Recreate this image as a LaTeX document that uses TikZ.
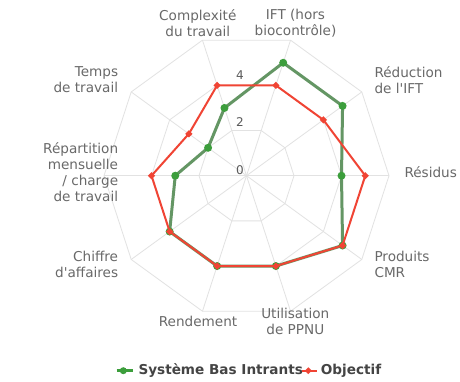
\documentclass[tikz,border=0pt]{standalone}
\usepackage{fontspec}
\setmainfont{DejaVu Sans}
\usetikzlibrary{shapes.geometric}
\definecolor{gridcol}{RGB}{226,226,226}
\definecolor{labelcol}{RGB}{105,105,105}
\definecolor{tickcol}{RGB}{90,90,90}
\definecolor{legendcol}{RGB}{68,68,68}
\definecolor{sbiline}{RGB}{100,150,100}
\definecolor{sbimark}{RGB}{60,158,60}
\definecolor{objline}{RGB}{240,68,52}
\tikzset{
  axislabel/.style={text=labelcol, inner sep=0pt, font=\fontsize{13.6bp}{16bp}\selectfont},
  ticklabel/.style={text=tickcol, inner sep=0pt, font=\fontsize{12bp}{14bp}\selectfont},
  legendlabel/.style={text=legendcol, inner sep=0pt, anchor=west, font=\fontsize{13.6bp}{16bp}\selectfont\bfseries},
  sbidot/.style={circle, fill=sbimark, inner sep=0pt, minimum size=8bp},
  objdot/.style={diamond, fill=objline, inner sep=0pt, minimum size=7.5bp},
  sbipath/.style={draw=sbiline, line width=3bp, line join=round},
  objpath/.style={draw=objline, line width=2bp, line join=round},
}
\begin{document}
\begin{tikzpicture}[x=1bp,y=1bp]
  \useasboundingbox (0,0) rectangle (460,381);
  \fill[white] (0,0) rectangle (460,381);
  \coordinate (c) at (246.5,205.3);
%%
  % Grid: spokes, then decagons at 2, 4 and 6
\begin{scope}[shift={(c)}, line width=0.8bp]
  \foreach \a in {0,36,...,324} \draw[gridcol] (0,0) -- (\a:142.5);
  \foreach \r in {47.5,95,142.5}
    \draw[gridcol] (0:\r) \foreach \a in {36,72,...,324} { -- (\a:\r) } -- cycle;
\end{scope}
  % Radial ticks
  \node[ticklabel] (tick0) at (240,211.0) {0};
  \node[ticklabel] (tick2) at (240,259.3) {2};
  \node[ticklabel] (tick4) at (240,306.0) {4};
%%
  % Data points (one unit = 23.75bp)
\begin{scope}[shift={(c)}]
  \foreach \n/\a/\v in {ift/72/5, red/36/5, res/0/4, cmr/-36/5, ppnu/-72/4,
                        rend/-108/4, ca/-144/4, rep/180/3, temps/144/2, cplx/108/3}
    \coordinate (sbi-\n) at (\a:{\v*23.75});
  \foreach \n/\a/\v in {ift/72/4, red/36/4, res/0/5, cmr/-36/5, ppnu/-72/4,
                        rend/-108/4, ca/-144/4, rep/180/4, temps/144/3, cplx/108/4}
    \coordinate (obj-\n) at (\a:{\v*23.75});
\end{scope}
  % Trace: Systeme Bas Intrants
  \draw[sbipath] (sbi-ift) -- (sbi-red) -- (sbi-res) -- (sbi-cmr) -- (sbi-ppnu)
    -- (sbi-rend) -- (sbi-ca) -- (sbi-rep) -- (sbi-temps) -- (sbi-cplx) -- cycle;
  \foreach \n in {ift,red,res,cmr,ppnu,rend,ca,rep,temps,cplx}
    \node[sbidot] at (sbi-\n) {};
  % Trace: Objectif
  \draw[objpath] (obj-ift) -- (obj-red) -- (obj-res) -- (obj-cmr) -- (obj-ppnu)
    -- (obj-rend) -- (obj-ca) -- (obj-rep) -- (obj-temps) -- (obj-cplx) -- cycle;
  \foreach \n in {ift,red,res,cmr,ppnu,rend,ca,rep,temps,cplx}
    \node[objdot] at (obj-\n) {};
%%
  % Axis labels
  \node[axislabel, align=center] (lab-cplx) at (197.8,358.2) {Complexité\\du travail};
  \node[axislabel, align=center] (lab-ift) at (295.5,358.2) {IFT (hors\\biocontrôle)};
  \node[axislabel, align=left, anchor=west] (lab-red) at (374.3,301.0) {Réduction\\de l\textquotesingle IFT};
  \node[axislabel, anchor=west] (lab-res) at (404.3,208.7) {Résidus};
  \node[axislabel, align=left, anchor=west] (lab-cmr) at (374.3,116.3) {Produits\\CMR};
  \node[axislabel, align=center] (lab-ppnu) at (295.3,59.7) {Utilisation\\de PPNU};
  \node[axislabel] (lab-rend) at (198.0,59.3) {Rendement};
  \node[axislabel, align=right, anchor=east] (lab-ca) at (118.3,116.3) {Chiffre\\d\textquotesingle affaires};
  \node[axislabel, align=right, anchor=east] (lab-rep) at (118.3,209.0) {Répartition\\mensuelle\\/ charge\\de travail};
  \node[axislabel, align=right, anchor=east] (lab-temps) at (118.3,301.0) {Temps\\de travail};
%%
  % Legend
  \coordinate (leg-sbi-a) at (116.7,10.3);
  \coordinate (leg-sbi-b) at (133.0,10.3);
  \draw[draw=sbimark, line width=2.5bp] (leg-sbi-a) -- (leg-sbi-b);
  \node[sbidot, minimum size=7bp] at (123.3,10.3) {};
  \node[legendlabel] (leg-sbi) at (138.3,10.3) {Système Bas Intrants};
  \coordinate (leg-obj-a) at (301.7,10.3);
  \coordinate (leg-obj-b) at (316.7,10.3);
  \draw[objpath] (leg-obj-a) -- (leg-obj-b);
  \node[objdot, minimum size=7bp] at (308.3,10.3) {};
  \node[legendlabel] (leg-obj) at (320.7,10.3) {Objectif};
%
\end{tikzpicture}
\end{document}
